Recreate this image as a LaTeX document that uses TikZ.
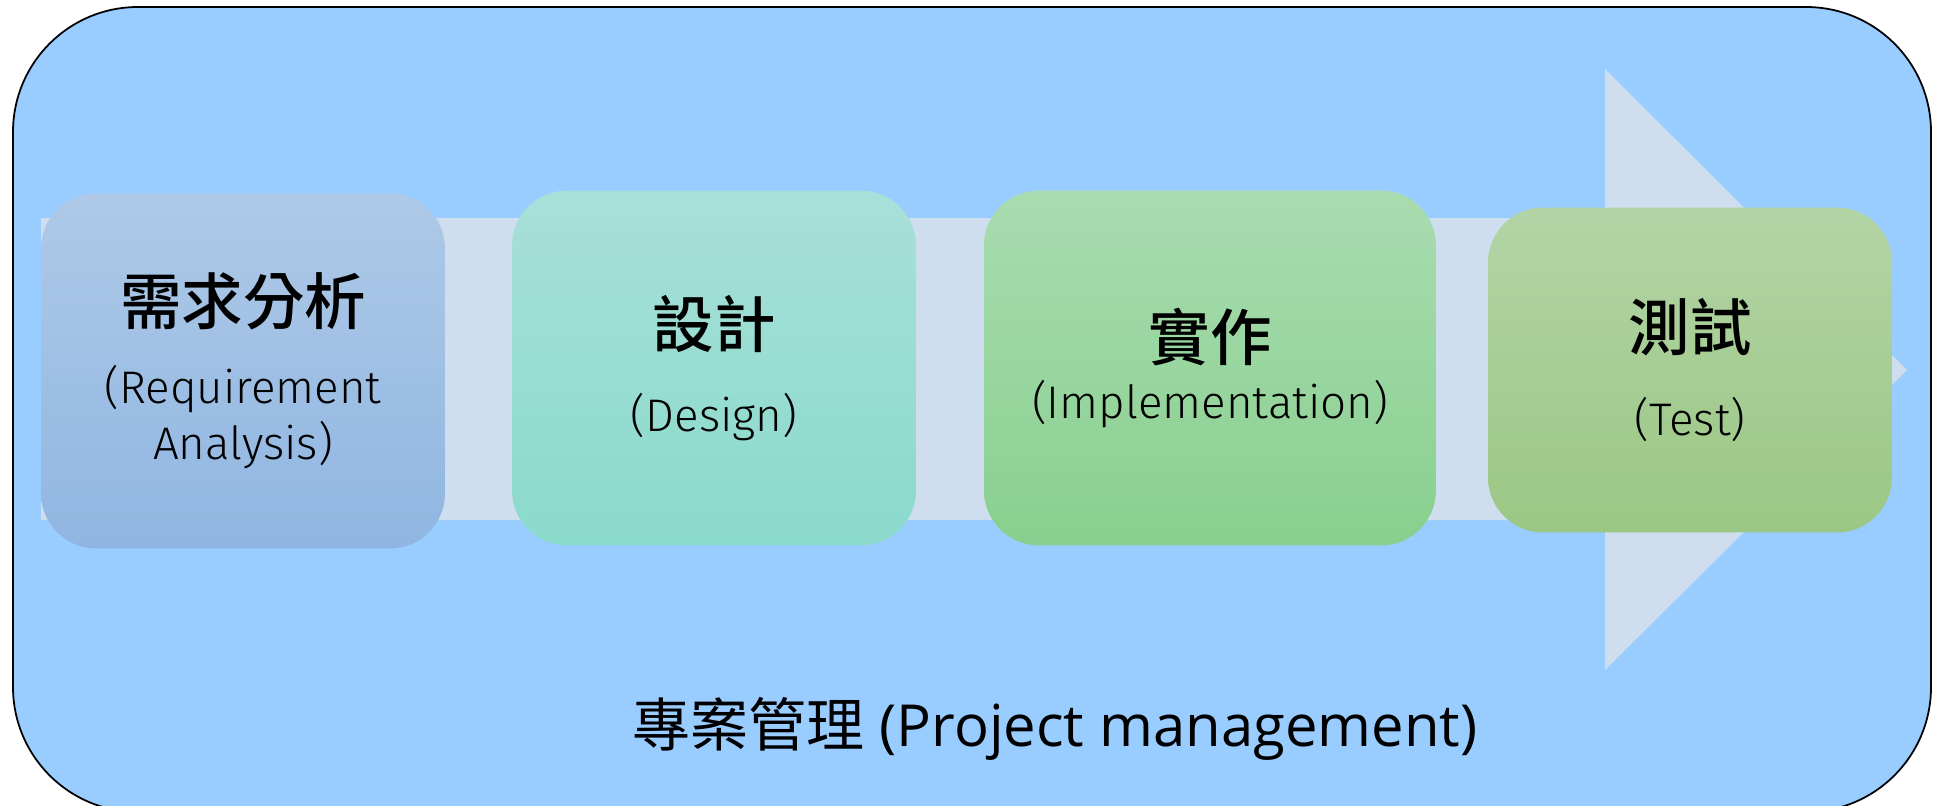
\documentclass[tikz,border=0pt]{standalone}
\usepackage{fontspec}
\setmainfont{Open Sans}
\newfontfamily\zhfont{Noto Sans CJK TC}
\newfontfamily\zhmedium{Noto Sans CJK TC Medium}
\newfontfamily\enthin{Fira Sans Light}
\usetikzlibrary{positioning}
\definecolor{projblue}{HTML}{99CCFF}
\definecolor{flowgray}{HTML}{CEDEEE}
\definecolor{reqtop}{HTML}{AFC9E7}
\definecolor{reqbot}{HTML}{8FB6E2}
\definecolor{destop}{HTML}{A8E0D9}
\definecolor{desbot}{HTML}{8ADACB}
\definecolor{imptop}{HTML}{A9DCB0}
\definecolor{impbot}{HTML}{88D08F}
\definecolor{tsttop}{HTML}{B3D4A6}
\definecolor{tstbot}{HTML}{9BC784}
\newcommand\zhtitle{\zhmedium\fontsize{35}{40}\selectfont}
\tikzset{
	phase/.style={rounded corners=1.1cm, minimum width=8.08cm, minimum height=7.1cm,
		align=center, inner sep=0pt, font=\enthin\fontsize{26}{32}\selectfont},
	project/.style={draw, line width=1pt, fill=projblue, rounded corners=2.5cm},
	flow/.style={fill=flowgray},
}
\begin{document}
\begin{tikzpicture}[x=0.02cm, y=-0.02cm]
	\useasboundingbox (0,0) rectangle (1934,805);
	\draw[project] (13,7) rectangle (1931,812);
	% the big arrow behind the phases
	\fill[flow] (41,218) -- (1605,218) -- (1605,69) -- (1907,370) -- (1605,670) -- (1605,520) -- (41,520) -- cycle;

	\node[phase, top color=reqtop, bottom color=reqbot] (req) at (243,371) {{\zhtitle 需求分析}\\[13pt] (Requirement\\ Analysis)};
	\node[phase, top color=destop, bottom color=desbot] (des) at (714,368) {{\zhtitle 設計}\\[16pt] (Design)};
	\node[phase, top color=imptop, bottom color=impbot, minimum width=9.04cm] (imp) at (1210,368) {{\zhtitle 實作}\\[1pt] (Implementation)};
	\node[phase, top color=tsttop, bottom color=tstbot, minimum height=6.5cm] (tst) at (1690,370) {{\zhtitle 測試}\\[16pt] (Test)};

	\node[font=\fontsize{33}{38}\selectfont] (pm) at (1055,729) {{\zhfont 專案管理} (Project management)};
\end{tikzpicture}
\end{document}
